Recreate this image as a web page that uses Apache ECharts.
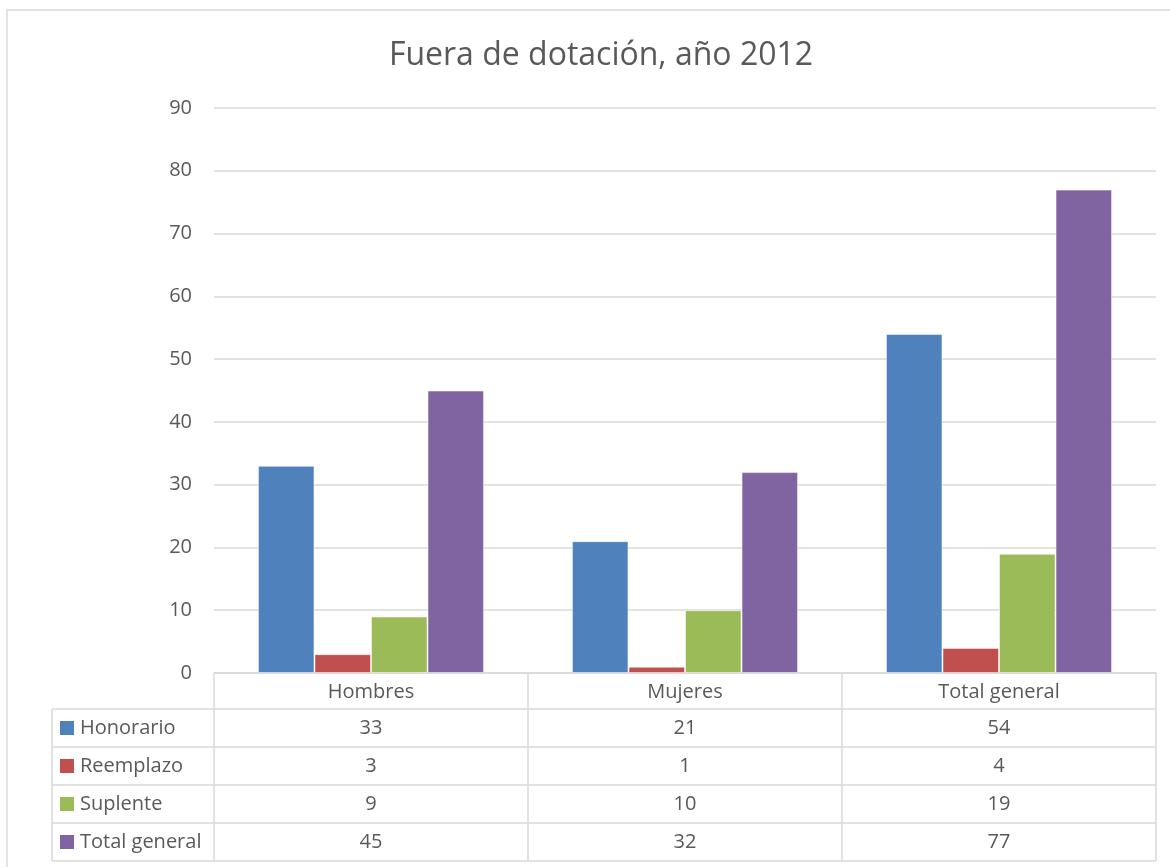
<!DOCTYPE html>
<html>
<head>
<meta charset="utf-8">
<title>Fuera de dotación, año 2012</title>
<script src="https://cdn.jsdelivr.net/npm/echarts@6/dist/echarts.min.js"></script>
<style>
  html, body { margin: 0; padding: 0; background: #fff; }
  #chart { width: 1170px; height: 867px; }
</style>
</head>
<body>
<div id="chart"></div>
<script>
// datos del gráfico
var categorias = ['Hombres', 'Mujeres', 'Total general'];
var series_nombres = ['Honorario', 'Reemplazo', 'Suplente', 'Total general'];
var honorario = [33, 21, 54];
var reemplazo = [3, 1, 4];
var suplente = [9, 10, 19];
var totalGeneral = [45, 32, 77];
var colores = ['#4F81BD', '#C0504D', '#9BBB59', '#8064A2'];

var valores = [honorario, reemplazo, suplente, totalGeneral];
var fuente = '"Open Sans", "Noto Sans", sans-serif';
var gris = '#595959';
var linea = '#D9D9D9';
var tamTexto = 20;

var chart = echarts.init(document.getElementById('chart'));

var option = {
    animation: false,
    title: {
        text: 'Fuera de dotación, año 2012',
        left: 596,
        textAlign: 'center',
        top: 35,
        textStyle: { fontFamily: fuente, fontSize: 32, fontWeight: 'normal', color: gris }
    },
    grid: { left: 214, right: 14, top: 108, bottom: 194 },
    xAxis: {
        type: 'category',
        data: categorias,
        axisLine: { lineStyle: { color: linea, width: 1.5 } },
        axisTick: { show: false },
        axisLabel: { show: false }
    },
    yAxis: {
        type: 'value',
        min: 0,
        max: 90,
        interval: 10,
        axisLine: { show: false },
        axisTick: { show: false },
        axisLabel: { fontFamily: fuente, fontSize: tamTexto, color: gris, margin: 22 },
        splitLine: { lineStyle: { color: linea, width: 1.5 } }
    },
    series: series_nombres.map(function (nombre, i) {
        return {
            name: nombre,
            type: 'bar',
            data: valores[i],
            barWidth: '18%',
            barGap: '0%',
            itemStyle: { color: colores[i], borderColor: 'rgba(255,255,255,0.5)', borderWidth: 1 }
        };
    })
};

chart.setOption(option);

// tabla de datos debajo del gráfico
function construirTabla() {
    var y0 = chart.convertToPixel({ yAxisIndex: 0 }, 0);
    var xIzq = 214, xDer = 1156, xTabla = 52;
    var paso = (xDer - xIzq) / categorias.length;
    var altoCab = 36, altoFila = 38;
    var fontTabla = tamTexto + 'px ' + fuente;
    var elementos = [];

    // borde exterior
    elementos.push({
        type: 'rect', shape: { x: 7, y: 10, width: 1200, height: 900 },
        style: { fill: null, stroke: linea, lineWidth: 1.5 }, silent: true
    });

    var yCab = y0 + altoCab;
    var yFin = yCab + altoFila * series_nombres.length;

    // líneas horizontales
    for (var r = 0; r <= series_nombres.length; r++) {
        var y = yCab + r * altoFila;
        elementos.push({
            type: 'line', shape: { x1: xTabla, y1: y, x2: xDer, y2: y },
            style: { stroke: linea, lineWidth: 1.5 }
        });
    }
    // líneas verticales
    elementos.push({
        type: 'line', shape: { x1: xTabla, y1: yCab, x2: xTabla, y2: yFin },
        style: { stroke: linea, lineWidth: 1.5 }
    });
    for (var c = 0; c <= categorias.length; c++) {
        var x = xIzq + c * paso;
        elementos.push({
            type: 'line', shape: { x1: x, y1: y0, x2: x, y2: yFin },
            style: { stroke: linea, lineWidth: 1.5 }
        });
    }

    // cabecera de categorías
    categorias.forEach(function (cat) {
        var cx = chart.convertToPixel({ xAxisIndex: 0 }, cat);
        elementos.push({
            type: 'text', x: cx, y: y0 + altoCab / 2 + 1,
            style: { text: cat, font: fontTabla, fill: gris, align: 'center', verticalAlign: 'middle' }
        });
    });

    // filas por serie
    series_nombres.forEach(function (nombre, i) {
        var cy = yCab + i * altoFila + altoFila / 2;
        elementos.push({
            type: 'rect', shape: { x: 60, y: cy - 7, width: 14, height: 14 },
            style: { fill: colores[i] }
        });
        elementos.push({
            type: 'text', x: 80, y: cy,
            style: { text: nombre, font: fontTabla, fill: gris, align: 'left', verticalAlign: 'middle' }
        });
        valores[i].forEach(function (v, j) {
            var cx = chart.convertToPixel({ xAxisIndex: 0 }, categorias[j]);
            elementos.push({
                type: 'text', x: cx, y: cy,
                style: { text: String(v), font: fontTabla, fill: gris, align: 'center', verticalAlign: 'middle' }
            });
        });
    });

    chart.setOption({ graphic: { elements: elementos } });
}

construirTabla();
</script>
</body>
</html>
